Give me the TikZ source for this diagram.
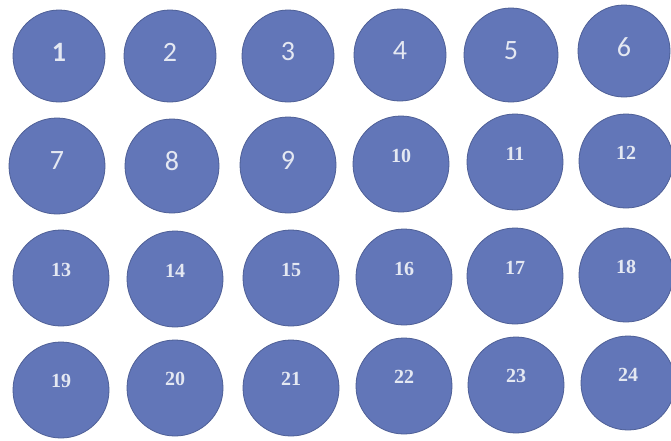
\documentclass[tikz,border=0pt]{standalone}
\usepackage{fontspec}
\setmainfont{Carlito}
\newfontfamily\numserif{Liberation Serif}
\definecolor{discfill}{HTML}{6276B8}
\definecolor{discline}{HTML}{4E5F96}
\definecolor{disctext}{HTML}{E4E8F2}
\begin{document}
\begin{tikzpicture}[x=1pt,y=-1pt,
  disc/.style={circle,fill=discfill,draw=discline,line width=0.8pt,inner sep=0pt},
  biglabel/.style={text=disctext,font=\fontsize{28}{28}\selectfont},
  boldlabel/.style={text=disctext,font=\bfseries\fontsize{28}{28}\selectfont},
  smalllabel/.style={text=disctext,font=\numserif\bfseries\fontsize{20}{20}\selectfont}]
\useasboundingbox (0,0) rectangle (671,440);
\fill[white] (0,0) rectangle (671,440);
% name / x / y / radius / label-dy / style
\foreach \n/\x/\y/\r/\dy/\s in {
  1/59/56/46/4/boldlabel, 2/170/56/46/4/biglabel, 3/288/56/46/4/biglabel,
  4/400/55/46/4/biglabel, 5/511/55/47/4/biglabel, 6/624/51/46/4/biglabel,
  7/57/166/48/5/biglabel, 8/172/166/47/5/biglabel, 9/288/165/48/5/biglabel,
  10/401/164/48/8/smalllabel, 11/515/162/48/8/smalllabel, 12/626/161/47/8/smalllabel,
  13/61/278/48/8/smalllabel, 14/175/279/48/8/smalllabel, 15/291/278/48/8/smalllabel,
  16/404/277/48/8/smalllabel, 17/515/276/48/8/smalllabel, 18/626/275/47/8/smalllabel,
  19/61/390/48/9/smalllabel, 20/175/388/48/9/smalllabel, 21/291/388/48/9/smalllabel,
  22/404/386/48/9/smalllabel, 23/516/385/48/9/smalllabel, 24/628/383/47/8/smalllabel}
{
  \node[disc,minimum size=2*\r] (c\n) at (\x,\y) {};
  \node[\s] (t\n) at (\x,\y-\dy) {\n};
}
\end{tikzpicture}
\end{document}
